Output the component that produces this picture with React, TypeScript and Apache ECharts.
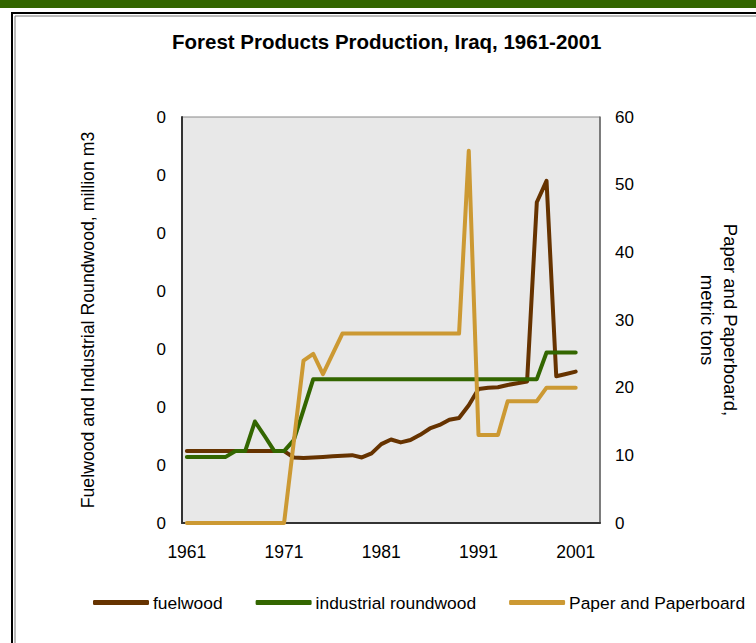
import React, { useEffect, useRef } from "react";
import * as echarts from "echarts";

const years = [
  "1961", "1962", "1963", "1964", "1965", "1966", "1967", "1968", "1969", "1970",
  "1971", "1972", "1973", "1974", "1975", "1976", "1977", "1978", "1979", "1980",
  "1981", "1982", "1983", "1984", "1985", "1986", "1987", "1988", "1989", "1990",
  "1991", "1992", "1993", "1994", "1995", "1996", "1997", "1998", "1999", "2000",
  "2001", "2002", "2003",
];

// million m3 (left axis)
const fuelwood = [
  0.0124, 0.0124, 0.0124, 0.0124, 0.0124, 0.0124, 0.0124, 0.0124, 0.0124, 0.0124,
  0.0124, 0.0113, 0.0112, 0.0113, 0.0114, 0.0115, 0.0116, 0.0117, 0.0113, 0.0120,
  0.0136, 0.0144, 0.0139, 0.0143, 0.0152, 0.0163, 0.0169, 0.0178, 0.0181, 0.0203,
  0.0231, 0.0233, 0.0234, 0.0238, 0.0241, 0.0244, 0.0553, 0.0590, 0.0253, 0.0257,
  0.0261, null, null,
];

const industrialRoundwood = [
  0.0114, 0.0114, 0.0114, 0.0114, 0.0114, 0.0124, 0.0124, 0.0175, 0.0150, 0.0124,
  0.0124, 0.0143, 0.0195, 0.0248, 0.0248, 0.0248, 0.0248, 0.0248, 0.0248, 0.0248,
  0.0248, 0.0248, 0.0248, 0.0248, 0.0248, 0.0248, 0.0248, 0.0248, 0.0248, 0.0248,
  0.0248, 0.0248, 0.0248, 0.0248, 0.0248, 0.0248, 0.0248, 0.0294, 0.0294, 0.0294,
  0.0294, null, null,
];

// metric tons (right axis)
const paperAndPaperboard = [
  0, 0, 0, 0, 0, 0, 0, 0, 0, 0,
  0, 12, 24, 25, 22, 25, 28, 28, 28, 28,
  28, 28, 28, 28, 28, 28, 28, 28, 28, 55,
  13, 13, 13, 18, 18, 18, 18, 20, 20, 20,
  20, null, null,
];

const FONT = "'Liberation Sans', Arial, sans-serif";

export default function App() {
  const ref = useRef<HTMLDivElement>(null);

  useEffect(() => {
    if (!ref.current) return;
    const chart = echarts.init(ref.current, null, { renderer: "svg" });
    chart.setOption({
      animation: false,
      backgroundColor: "#ffffff",
      title: {
        text: "Forest Products Production, Iraq, 1961-2001",
        left: 172,
        top: 31,
        padding: 0,
        textStyle: { fontFamily: FONT, fontSize: 20.5, fontWeight: "bold", color: "#000" },
      },
      graphic: [
        { type: "rect", shape: { x: 0, y: 0, width: 756, height: 8 }, style: { fill: "#336600" }, silent: true },
        { type: "rect", shape: { x: 12, y: 13, width: 800, height: 700 }, style: { fill: "none", stroke: "#000", lineWidth: 2 }, silent: true },
        { type: "rect", shape: { x: 15, y: 16, width: 800, height: 700 }, style: { fill: "none", stroke: "#777", lineWidth: 1 }, silent: true },
      ],
      legend: {
        left: 93,
        top: 594,
        padding: 0,
        icon: "roundRect",
        itemWidth: 56,
        itemHeight: 5,
        itemGap: 33,
        textStyle: { fontFamily: FONT, fontSize: 17.4, color: "#000", padding: [0, 0, 0, -1] },
        data: ["fuelwood", "industrial roundwood", "Paper and Paperboard"],
      },
      grid: {
        left: 182,
        top: 117,
        width: 418,
        height: 406,
        show: true,
        backgroundColor: "#e8e8e8",
        borderColor: "#888",
        borderWidth: 1,
      },
      xAxis: {
        type: "category",
        data: years,
        boundaryGap: true,
        axisLine: { show: true, lineStyle: { color: "#333", width: 2 } },
        axisTick: { show: false },
        axisLabel: { interval: 9, margin: 20, fontFamily: FONT, fontSize: 17.5, color: "#000" },
        splitLine: { show: false },
      },
      yAxis: [
        {
          type: "value",
          min: 0,
          max: 0.07,
          interval: 0.01,
          name: "Fuelwood and Industrial Roundwood, million m3",
          nameLocation: "middle",
          nameRotate: 90,
          nameGap: 85,
          nameTextStyle: { fontFamily: FONT, fontSize: 17.7, color: "#000" },
          axisLine: { show: true, lineStyle: { color: "#333", width: 2 } },
          axisTick: { show: false },
          splitLine: { show: false },
          axisLabel: {
            margin: 16,
            fontFamily: FONT,
            fontSize: 17,
            color: "#000",
            formatter: (v: number) => String(Math.round(v)),
          },
        },
        {
          type: "value",
          min: 0,
          max: 60,
          interval: 10,
          position: "right",
          name: "Paper and Paperboard,\nmetric tons",
          nameLocation: "middle",
          nameRotate: -90,
          nameGap: 96,
          nameTextStyle: { fontFamily: FONT, fontSize: 18.5, color: "#000", lineHeight: 23 },
          axisLine: { show: true, lineStyle: { color: "#666", width: 1.5 } },
          axisTick: { show: false },
          splitLine: { show: false },
          axisLabel: { margin: 15, fontFamily: FONT, fontSize: 17, color: "#000" },
        },
      ],
      series: [
        {
          name: "fuelwood",
          type: "line",
          data: fuelwood,
          yAxisIndex: 0,
          symbol: "none",
          color: "#663300",
          lineStyle: { width: 4, color: "#663300", cap: "round", join: "round" },
        },
        {
          name: "industrial roundwood",
          type: "line",
          data: industrialRoundwood,
          yAxisIndex: 0,
          symbol: "none",
          color: "#336600",
          lineStyle: { width: 4, color: "#336600", cap: "round", join: "round" },
        },
        {
          name: "Paper and Paperboard",
          type: "line",
          data: paperAndPaperboard,
          yAxisIndex: 1,
          symbol: "none",
          color: "#cc9933",
          lineStyle: { width: 4, color: "#cc9933", cap: "round", join: "round" },
        },
      ],
    });
    return () => chart.dispose();
  }, []);

  return (
    <div
      ref={ref}
      style={{ position: "fixed", left: 0, top: 0, width: 756, height: 643, background: "#fff" }}
    />
  );
}
